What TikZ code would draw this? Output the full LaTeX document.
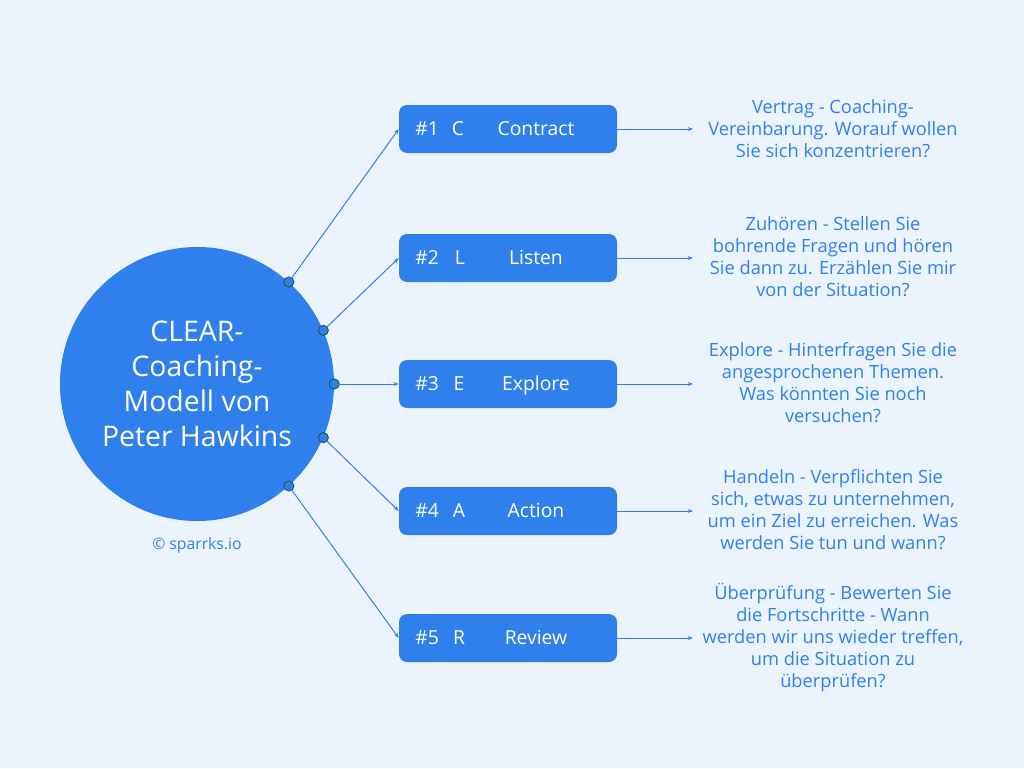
\documentclass[tikz,border=0pt]{standalone}
\usepackage{fontspec}
\setmainfont{Open Sans}
\usetikzlibrary{arrows.meta,positioning,calc}
\definecolor{bgblue}{HTML}{EBF4FD}
\definecolor{mainblue}{HTML}{2F80ED}
\definecolor{dotgreen}{HTML}{1D5C50}
\tikzset{
	stepbox/.style={fill=mainblue, rounded corners=6pt, minimum width=163.5pt, minimum height=36pt, inner sep=0pt},
	boxtext/.style={text=white, inner sep=0pt, text height=13pt, text depth=3pt, font=\fontsize{14.5}{17}\selectfont},
	desc/.style={text=mainblue, align=center, font=\fontsize{13.7}{16.5}\selectfont},
	link/.style={mainblue, line width=0.75pt, -{Stealth[length=4pt,width=3pt]}},
	knob/.style={circle, fill=mainblue, draw=dotgreen, line width=0.75pt, minimum size=7.5pt, inner sep=0pt}
}

\begin{document}
\begin{tikzpicture}[x=0.75pt,y=-0.75pt]
		% Background
		\fill[bgblue] (0,0) rectangle (1024,768);
		\useasboundingbox (0,0) rectangle (1024,768);

		% Central circle
		\node[circle, fill=mainblue, minimum size=205.5pt, inner sep=0pt, text=white, align=center, font=\fontsize{21.3}{26.25}\selectfont] (hub) at (197,384) {CLEAR-\\Coaching-\\Modell von\\Peter Hawkins};
		\node[text=mainblue, font=\fontsize{11.8}{14}\selectfont] (copy) at (197,545) {© sparrks.io};

		% Steps
		\node[stepbox] (b1) at (508,129) {};
		\node[boxtext, anchor=west] (n1) at (415,129) {\#1};
		\node[boxtext] (l1) at (458,129) {C};
		\node[boxtext] (t1) at (536,129) {Contract};

		\node[stepbox] (b2) at (508,258) {};
		\node[boxtext, anchor=west] (n2) at (415,258) {\#2};
		\node[boxtext] (l2) at (460,258) {L};
		\node[boxtext] (t2) at (536,258) {Listen};

		\node[stepbox] (b3) at (508,384) {};
		\node[boxtext, anchor=west] (n3) at (415,384) {\#3};
		\node[boxtext] (l3) at (459,384) {E};
		\node[boxtext] (t3) at (536,384) {Explore};

		\node[stepbox] (b4) at (508,511) {};
		\node[boxtext, anchor=west] (n4) at (415,511) {\#4};
		\node[boxtext] (l4) at (459,511) {A};
		\node[boxtext] (t4) at (536,511) {Action};

		\node[stepbox] (b5) at (508,638) {};
		\node[boxtext, anchor=west] (n5) at (415,638) {\#5};
		\node[boxtext] (l5) at (459,638) {R};
		\node[boxtext] (t5) at (536,638) {Review};

		% Descriptions
		\node[desc] (d1) at (833,129) {Vertrag - Coaching-\\Vereinbarung. Worauf wollen\\Sie sich konzentrieren?};
		\node[desc] (d2) at (833,257) {Zuhören - Stellen Sie\\bohrende Fragen und hören\\Sie dann zu. Erzählen Sie mir\\von der Situation?};
		\node[desc] (d3) at (833,383) {Explore - Hinterfragen Sie die\\angesprochenen Themen.\\Was könnten Sie noch\\versuchen?};
		\node[desc] (d4) at (833,510) {Handeln - Verpflichten Sie\\sich, etwas zu unternehmen,\\um ein Ziel zu erreichen. Was\\werden Sie tun und wann?};
		\node[desc] (d5) at (833,638) {Überprüfung - Bewerten Sie\\die Fortschritte - Wann\\werden wir uns wieder treffen,\\um die Situation zu\\überprüfen?};

		% Links from the circle
		\node[knob] (k1) at (hub.48) {};
		\node[knob] (k2) at (hub.23) {};
		\node[knob] (k3) at (hub.0) {};
		\node[knob] (k4) at (hub.-23) {};
		\node[knob] (k5) at (hub.-48) {};
		\draw[link] (k1) -- (b1.west);
		\draw[link] (k2) -- (b2.west);
		\draw[link] (k3) -- (b3.west);
		\draw[link] (k4) -- (b4.west);
		\draw[link] (k5) -- (b5.west);

		% Arrows to the descriptions
		\coordinate (e1) at (693,129);
		\coordinate (e2) at (693,258);
		\coordinate (e3) at (693,384);
		\coordinate (e4) at (693,511);
		\coordinate (e5) at (693,638);
		\draw[link] (b1.east) -- (e1);
		\draw[link] (b2.east) -- (e2);
		\draw[link] (b3.east) -- (e3);
		\draw[link] (b4.east) -- (e4);
		\draw[link] (b5.east) -- (e5);
	\end{tikzpicture}
\end{document}
